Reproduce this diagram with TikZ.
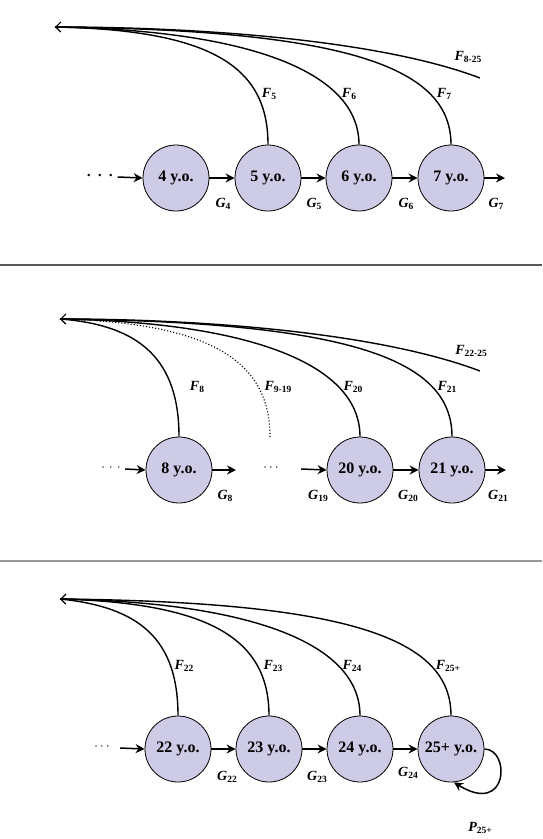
\documentclass[tikz,border=0pt]{standalone}
\usepackage{fontspec}
\setmainfont{Liberation Serif}
\usetikzlibrary{arrows.meta}
\definecolor{agefill}{RGB}{205,203,230}
\newcommand\flab[2]{{\fontsize{14}{14}\selectfont\bfseries\itshape #1}\raisebox{-0.45ex}{\fontsize{9.5}{9.5}\selectfont\bfseries #2}}
\tikzset{
  agebox/.style={circle, draw=black, line width=0.8pt, fill=agefill, minimum size=66pt, inner sep=0pt,
                 font=\fontsize{16}{16}\selectfont\bfseries},
  flow/.style={line width=1.5pt, -{Stealth[length=9pt,width=9pt,inset=3pt]}},
  fcurve/.style={line width=1.4pt},
  fdot/.style={line width=1.1pt, dotted},
  tiparrow/.style={-{Straight Barb[length=5pt,width=10pt,line width=1.2pt]}},
  dotsbig/.style={inner xsep=4pt, inner ysep=0pt, font=\fontsize{15}{15}\selectfont\bfseries},
  dotssmall/.style={inner xsep=4pt, inner ysep=0pt, font=\fontsize{12}{12}\selectfont},
  lab/.style={inner sep=0pt},
  sep/.style={line width=1.2pt}
}
\begin{document}
\begin{tikzpicture}[x=1pt,y=-1pt]
\useasboundingbox (0,0) rectangle (542,839);
% separators
\draw[sep, draw=black!65] (0,265) -- (542,265);
\draw[sep, draw=black!40] (0,561) -- (542,561);

% ---------------- top panel
\coordinate (t1) at (55,27);
\node[agebox] (c4) at (176,178) {4 y.o.};
\node[agebox] (c5) at (268,178) {5 y.o.};
\node[agebox] (c6) at (359,178) {6 y.o.};
\node[agebox] (c7) at (451,178) {7 y.o.};
\node[dotsbig] (d1) at (100,177) {·\hspace{6pt}·\hspace{6pt}·};
\coordinate (e7) at (505,178);
\draw[flow] (d1.east) -- (c4.west);
\draw[flow] (c4) -- (c5);
\draw[flow] (c5) -- (c6);
\draw[flow] (c6) -- (c7);
\draw[flow] (c7.east) -- (e7);
\coordinate (s825) at (480,78);
\draw[fcurve] (c5.north) .. controls +(0,-76) and +(160,3) .. (t1);
\draw[fcurve] (c6.north) .. controls +(0,-76) and +(185,3) .. (t1);
\draw[fcurve] (c7.north) .. controls +(0,-76) and +(297,3) .. (t1);
\draw[fcurve,tiparrow] (s825) .. controls +(-100,-38) and +(145,0) .. (t1);
\node[lab] (lf5) at (269,94) {\flab{F}{5}};
\node[lab] (lf6) at (349,94) {\flab{F}{6}};
\node[lab] (lf7) at (444,94) {\flab{F}{7}};
\node[lab] (lf825) at (468,57) {\flab{F}{8-25}};
\node[lab] (lg4) at (223,204) {\flab{G}{4}};
\node[lab] (lg5) at (314,204) {\flab{G}{5}};
\node[lab] (lg6) at (406,204) {\flab{G}{6}};
\node[lab] (lg7) at (496,204) {\flab{G}{7}};

% ---------------- middle panel
\coordinate (t2) at (60,319);
\node[agebox] (c8) at (179,470) {8 y.o.};
\node[agebox] (c20) at (360,470) {20 y.o.};
\node[agebox] (c21) at (452,470) {21 y.o.};
\node[dotssmall] (d2) at (111,469) {·\hspace{4pt}·\hspace{4pt}·};
\node[dotssmall] (d3) at (271,469) {·\hspace{2pt}·\hspace{2pt}·};
\coordinate (e8) at (236,470);
\coordinate (e21) at (506,470);
\coordinate (s919) at (270,437);
\coordinate (s2225) at (480,371);
\draw[flow] (d2.east) -- (c8.west);
\draw[flow] (c8.east) -- (e8);
\draw[flow] ([xshift=18pt]d3.east) -- (c20.west);
\draw[flow] (c20) -- (c21);
\draw[flow] (c21.east) -- (e21);
\draw[fcurve] (c8.north) .. controls +(0,-76) and +(81,6) .. (t2);
\draw[fdot] (s919) .. controls +(0,-76) and +(151,4) .. (t2);
\draw[fcurve] (c20.north) .. controls +(0,-76) and +(180,3) .. (t2);
\draw[fcurve] (c21.north) .. controls +(0,-76) and +(294,3) .. (t2);
\draw[fcurve,tiparrow] (s2225) .. controls +(-100,-38) and +(145,0) .. (t2);
\node[lab] (lf8) at (197,387) {\flab{F}{8}};
\node[lab] (lf919) at (278,387) {\flab{F}{9-19}};
\node[lab] (lf20) at (353,387) {\flab{F}{20}};
\node[lab] (lf21) at (447,387) {\flab{F}{21}};
\node[lab] (lf2225) at (471,351) {\flab{F}{22-25}};
\node[lab] (lg8) at (225,496) {\flab{G}{8}};
\node[lab] (lg19) at (318,496) {\flab{G}{19}};
\node[lab] (lg20) at (408,496) {\flab{G}{20}};
\node[lab] (lg21) at (498,496) {\flab{G}{21}};

% ---------------- bottom panel
\coordinate (t3) at (60,599);
\node[agebox] (c22) at (178,749) {22 y.o.};
\node[agebox] (c23) at (269,749) {23 y.o.};
\node[agebox] (c24) at (360,749) {24 y.o.};
\node[agebox] (c25) at (451,749) {25+ y.o.};
\node[dotssmall] (d4) at (102,748) {·\hspace{2pt}·\hspace{2pt}·};
\draw[flow] ([xshift=6pt]d4.east) -- (c22.west);
\draw[flow] (c22) -- (c23);
\draw[flow] (c23) -- (c24);
\draw[flow] (c24) -- (c25);
\draw[flow] (c25.east) .. controls +(26,0) and +(55,34) .. ([xshift=3pt]c25.south);
\draw[fcurve] (c22.north) .. controls +(0,-76) and +(80,8) .. (t3);
\draw[fcurve] (c23.north) .. controls +(0,-76) and +(151,4) .. (t3);
\draw[fcurve] (c24.north) .. controls +(0,-76) and +(180,3) .. (t3);
\draw[fcurve,tiparrow] (c25.north) .. controls +(0,-76) and +(293,3) .. (t3);
\node[lab] (lf22) at (184,666) {\flab{F}{22}};
\node[lab] (lf23) at (273,666) {\flab{F}{23}};
\node[lab] (lf24) at (352,666) {\flab{F}{24}};
\node[lab] (lf25) at (448,666) {\flab{F}{25+}};
\node[lab] (lg22) at (227,777) {\flab{G}{22}};
\node[lab] (lg23) at (317,777) {\flab{G}{23}};
\node[lab] (lg24) at (408,773) {\flab{G}{24}};
\node[lab] (lp25) at (480,828) {\flab{P}{25+}};
\end{tikzpicture}
\end{document}
